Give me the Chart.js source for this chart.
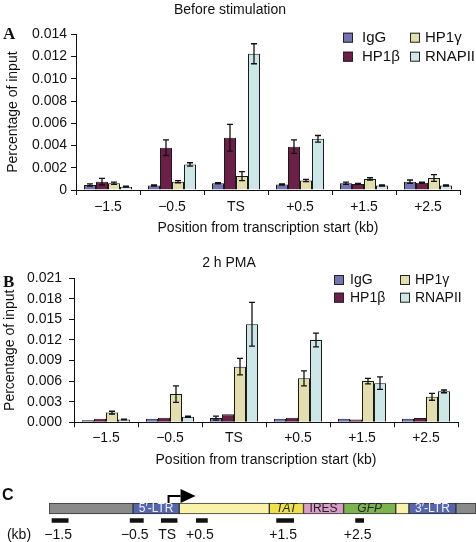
<!DOCTYPE html>
<html><head><meta charset="utf-8">
<script src="https://cdn.jsdelivr.net/npm/chart.js@4/dist/chart.umd.min.js"></script>
<style>
html,body{margin:0;padding:0;background:#fff;}
#wrap{position:relative;width:476px;height:542px;overflow:hidden;background:#fff;}
canvas{position:absolute;left:0;}
.lbl{position:absolute;font-weight:bold;color:#111;line-height:1;}
</style></head><body>
<div id="wrap">
<canvas id="cA" width="476" height="240" style="top:0px"></canvas>
<canvas id="cB" width="476" height="235" style="top:240px"></canvas>
<canvas id="cC" width="476" height="67" style="top:475px"></canvas>
<div class="lbl" style="left:3px;top:25px;font-family:'Liberation Serif',serif;font-size:17px">A</div>
<div class="lbl" style="left:3px;top:273px;font-family:'Liberation Serif',serif;font-size:17px">B</div>
<div class="lbl" style="left:2px;top:487px;font-family:'Liberation Sans',sans-serif;font-size:16px">C</div>
</div>
<script>
// ---------- data ----------
const categories = ['−1.5', '−0.5', 'TS', '+0.5', '+1.5', '+2.5'];
const seriesNames = ['IgG', 'HP1β', 'HP1γ', 'RNAPII'];
const seriesColors = ['#7474b4', '#6c2048', '#e2deae', '#cde6e8'];

// Panel A: before stimulation
const aIgG       = [0.00045, 0.0004, 0.0006, 0.0005, 0.0006, 0.00075];
const aIgGErr    = [0.0001, 0.00005, 0.00005, 0.00005, 0.0001, 0.00015];
const aHP1b      = [0.00075, 0.0038, 0.0047, 0.0039, 0.00055, 0.00065];
const aHP1bErr   = [0.0003, 0.0007, 0.0012, 0.0006, 0.00005, 0.00005];
const aHP1g      = [0.0006, 0.00075, 0.00125, 0.00085, 0.001, 0.00108];
const aHP1gErr   = [0.0001, 0.0001, 0.0004, 0.0001, 0.0001, 0.0003];
const aRNAPII    = [0.0003, 0.0023, 0.01225, 0.0046, 0.0004, 0.0004];
const aRNAPIIErr = [0.00005, 0.00015, 0.0009, 0.0003, 0.00005, 0.00005];
const aTicks = { min: 0, max: 0.014, step: 0.002 };

// Panel B: 2 h PMA
const bIgG       = [0.0003, 0.0005, 0.0006, 0.0005, 0.0005, 0.0005];
const bIgGErr    = [0, 0, 0.0003, 0, 0, 0];
const bHP1b      = [0.0005, 0.00065, 0.00115, 0.00065, 0.0004, 0.0006];
const bHP1bErr   = [0, 0, 0, 0, 0, 0];
const bHP1g      = [0.0014, 0.0041, 0.0081, 0.0064, 0.006, 0.0037];
const bHP1gErr   = [0.0002, 0.0012, 0.0012, 0.0011, 0.0004, 0.0005];
const bRNAPII    = [0.0004, 0.0008, 0.0143, 0.012, 0.0057, 0.0045];
const bRNAPIIErr = [0.00005, 0.0001, 0.0032, 0.001, 0.0009, 0.0002];
const bTicks = { min: 0, max: 0.021, step: 0.003 };

// Panel C: provirus map (schematic units 0-100)
const segLabels = ['', '5′-LTR', '', 'TAT', 'IRES', 'GFP', '', '3′-LTR', ''];
const segStart  = [0, 19.7, 30.5, 51.6, 59.6, 69.0, 81.2, 84.3, 95.3];
const segEnd    = [19.7, 30.5, 51.6, 59.6, 69.0, 81.2, 84.3, 95.3, 100];
const segColors = ['#8a8a8a', '#5666ae', '#f8f3a8', '#f0e148', '#da9cc8', '#7db34f', '#f8f3a8', '#5666ae', '#8a8a8a'];
const probeStart = [0.7, 19.0, 26.3, 34.5, 53.3, 71.8];
const probeEnd   = [4.5, 22.1, 30.0, 37.1, 57.3, 73.7];
const tssPos = 28;

// ---------- helpers ----------
Chart.defaults.font.family = "'Liberation Sans', Arial, sans-serif";
Chart.defaults.font.size = 14;
Chart.defaults.color = '#111';

const extras = {
  id: 'extras',
  afterDatasetsDraw(chart, args, opts) {
    const ctx = chart.ctx;
    if (opts.errorBars) {
      const ys = chart.scales.y;
      chart.data.datasets.forEach((ds, di) => {
        if (!ds.errors) return;
        const meta = chart.getDatasetMeta(di);
        meta.data.forEach((el, i) => {
          const v = ds.data[i], e = ds.errors[i];
          if (!e) return;
          const yt = ys.getPixelForValue(v + e);
          const yb = ys.getPixelForValue(Math.max(0, v - e));
          ctx.save();
          ctx.strokeStyle = '#111'; ctx.lineWidth = 1.3;
          ctx.beginPath();
          ctx.moveTo(el.x, yt); ctx.lineTo(el.x, yb);
          ctx.moveTo(el.x - 3, yt); ctx.lineTo(el.x + 3, yt);
          ctx.moveTo(el.x - 3, yb); ctx.lineTo(el.x + 3, yb);
          ctx.stroke(); ctx.restore();
        });
      });
    }
    if (opts.legend) {
      const L = opts.legend;
      ctx.save();
      ctx.font = L.font + "px 'Liberation Sans', Arial, sans-serif";
      ctx.textBaseline = 'middle'; ctx.textAlign = 'left';
      L.order.forEach((col, ci) => {
        col.forEach((di, ri) => {
          const ds = chart.data.datasets[di];
          const sx = L.boxX[ci], cy = L.rowY[ri];
          ctx.fillStyle = ds.backgroundColor;
          ctx.fillRect(sx, cy - L.size / 2, L.size, L.size);
          ctx.strokeStyle = '#222'; ctx.lineWidth = 1;
          ctx.strokeRect(sx + 0.5, cy - L.size / 2 + 0.5, L.size - 1, L.size - 1);
          ctx.fillStyle = '#111';
          ctx.fillText(ds.label, L.textX[ci], cy);
        });
      });
      ctx.restore();
    }
    if (opts.diagram) {
      const D = opts.diagram;
      const xs = chart.scales.x;
      const segMeta = chart.getDatasetMeta(0);
      ctx.save();
      ctx.textAlign = 'center'; ctx.textBaseline = 'middle';
      segMeta.data.forEach((el, i) => {
        const t = segLabels[i];
        if (!t) return;
        const p = el.getProps(['x', 'base', 'y'], true);
        const italic = (t === 'TAT' || t === 'GFP');
        ctx.font = (italic ? 'italic ' : '') + "12px 'Liberation Sans', Arial, sans-serif";
        ctx.fillStyle = t.indexOf('LTR') >= 0 ? '#f2f2ff' : '#222';
        ctx.fillText(t, (p.x + p.base) / 2, p.y + 0.5);
      });
      // transcription start arrow
      const top = segMeta.data[0].getProps(['y', 'height'], true);
      const barTop = top.y - 5.5;
      const ax = xs.getPixelForValue(tssPos);
      const ay = barTop - 7;
      ctx.strokeStyle = '#000'; ctx.lineWidth = 2;
      ctx.beginPath();
      ctx.moveTo(ax, barTop); ctx.lineTo(ax, ay); ctx.lineTo(ax + 12, ay);
      ctx.stroke();
      ctx.fillStyle = '#000';
      ctx.beginPath();
      ctx.moveTo(ax + 12, ay - 7); ctx.lineTo(ax + 27, ay); ctx.lineTo(ax + 12, ay + 7);
      ctx.closePath(); ctx.fill();
      // probe labels
      ctx.font = "14px 'Liberation Sans', Arial, sans-serif";
      ctx.fillStyle = '#111';
      const pm = chart.getDatasetMeta(1);
      pm.data.forEach((el, i) => {
        const p = el.getProps(['x', 'base'], true);
        ctx.fillText(categories[i], (p.x + p.base) / 2 - 2, D.labelY);
      });
      ctx.fillText('(kb)', D.kbX, D.labelY);
      ctx.restore();
    }
  }
};

function makeDatasets(vals, errs) {
  return seriesNames.map((n, i) => ({
    label: n, data: vals[i], errors: errs[i],
    backgroundColor: seriesColors[i], borderColor: '#1a1a1a', borderWidth: 1,
    categoryPercentage: 0.75, barPercentage: 1.0
  }));
}

function barOptions(cfg) {
  return {
    responsive: false, animation: false,
    layout: { padding: { left: 0, right: cfg.padRight, top: 0, bottom: 0 } },
    plugins: {
      legend: { display: false }, tooltip: { enabled: false },
      title: { display: true, text: cfg.title, color: '#111',
        font: { size: 14, weight: 'normal' },
        padding: { top: cfg.titleTop, bottom: cfg.titleBottom } },
      extras: { errorBars: true, legend: cfg.legend }
    },
    scales: {
      x: {
        grid: { drawOnChartArea: false, tickLength: 5, color: '#111', offset: true },
        border: { color: '#111', width: 1 },
        ticks: { padding: cfg.xTickPad, color: '#111', font: { size: 14 } },
        title: { display: true, text: 'Position from transcription start (kb)', color: '#111',
          font: { size: 14 }, padding: { top: 0, bottom: cfg.xTitlePad } },
        afterFit(s) { s.height = cfg.xHeight; }
      },
      y: {
        min: cfg.ticks.min, max: cfg.ticks.max,
        grid: { drawOnChartArea: false, tickLength: 5, color: '#111' },
        border: { color: '#111', width: 1 },
        ticks: { stepSize: cfg.ticks.step, padding: cfg.yTickPad, color: '#111', font: { size: 14 },
          callback: v => (Math.abs(v) < 1e-9 ? cfg.zeroLabel : v.toFixed(3)) },
        title: { display: true, text: 'Percentage of input', color: '#111',
          font: { size: 14 }, padding: { top: cfg.yTitlePad, bottom: 0 } },
        afterFit(s) { s.width = cfg.yWidth; }
      }
    }
  };
}

new Chart(document.getElementById('cA'), {
  type: 'bar',
  data: { labels: categories,
    datasets: makeDatasets([aIgG, aHP1b, aHP1g, aRNAPII], [aIgGErr, aHP1bErr, aHP1gErr, aRNAPIIErr]) },
  options: barOptions({
    title: 'Before stimulation', padRight: 16, titleTop: 1.6, titleBottom: 15.9,
    xTickPad: 4, xTitlePad: 3.6, xHeight: 50, yTickPad: 4, yTitlePad: 4.6, yWidth: 76,
    ticks: aTicks, zeroLabel: '0',
    legend: { boxX: [343, 410], textX: [362, 425], rowY: [37.7, 56.7], size: 10, font: 15, order: [[0, 1], [2, 3]] }
  }),
  plugins: [extras]
});

new Chart(document.getElementById('cB'), {
  type: 'bar',
  data: { labels: categories,
    datasets: makeDatasets([bIgG, bHP1b, bHP1g, bRNAPII], [bIgGErr, bHP1bErr, bHP1gErr, bRNAPIIErr]) },
  options: barOptions({
    title: '2 h PMA', padRight: 18, titleTop: 14.6, titleBottom: 6.9,
    xTickPad: 2.4, xTitlePad: 6.6, xHeight: 52.8, yTickPad: 7, yTitlePad: 1.6, yWidth: 74,
    ticks: bTicks, zeroLabel: '0.000',
    legend: { boxX: [334, 400], textX: [350, 415], rowY: [40, 57.7], size: 10, font: 14, order: [[0, 1], [2, 3]] }
  }),
  plugins: [extras]
});

new Chart(document.getElementById('cC'), {
  type: 'bar',
  data: {
    labels: ['map', 'probe'],
    datasets: [
      { data: segStart.map((s, i) => ({ y: 'map', x: [s, segEnd[i]] })),
        backgroundColor: segColors, borderColor: '#333', borderWidth: 1,
        borderSkipped: false, barThickness: 11, grouped: false },
      { data: probeStart.map((s, i) => ({ y: 'probe', x: [s, probeEnd[i]] })),
        backgroundColor: '#111', borderWidth: 0, barThickness: 4, grouped: false }
    ]
  },
  options: {
    responsive: false, animation: false, indexAxis: 'y',
    layout: { padding: { left: 49, right: 0, top: 27.5, bottom: 15.5 } },
    plugins: { legend: { display: false }, tooltip: { enabled: false }, title: { display: false },
      extras: { diagram: { labelY: 60, kbX: 19 } } },
    scales: {
      x: { type: 'linear', min: 0, max: 100, display: false },
      y: { type: 'category', display: false }
    }
  },
  plugins: [extras]
});
</script>
</body></html>
